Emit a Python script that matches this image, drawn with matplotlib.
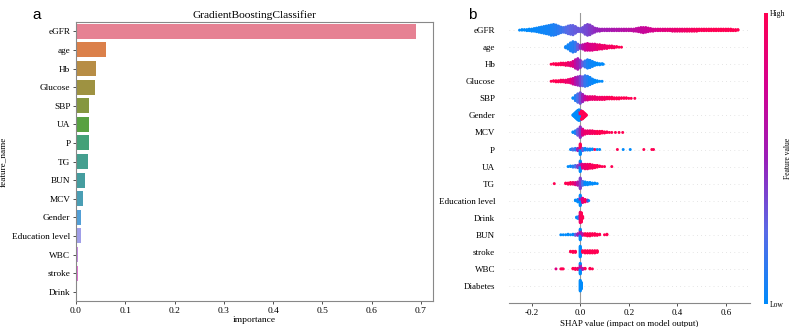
import matplotlib

matplotlib.use("Agg")

import matplotlib.pyplot as plt  # noqa: E402
import numpy as np  # noqa: E402
import seaborn as sns  # noqa: E402
from matplotlib.colors import LinearSegmentedColormap  # noqa: E402
from matplotlib.cm import ScalarMappable  # noqa: E402

# ---- panel a: GradientBoostingClassifier feature importance ----
imp_features = ["eGFR", "age", "Hb", "Glucose", "SBP", "UA", "P", "TG", "BUN",
                "MCV", "Gender", "Education level", "WBC", "stroke", "Drink"]
imp_values = [0.690, 0.061, 0.040, 0.039, 0.027, 0.027, 0.026, 0.024, 0.018,
              0.014, 0.0095, 0.0095, 0.004, 0.004, 0.001]

shap_egfr = [
    (-0.25, 1, 0.0), (-0.24, 2, 0.0), (-0.23, 2, 0.0), (-0.22, 3, 0.0),
    (-0.21, 4, 0.0), (-0.20, 5, 0.02), (-0.19, 6, 0.02), (-0.18, 8, 0.03),
    (-0.17, 10, 0.03), (-0.16, 12, 0.04), (-0.15, 14, 0.05), (-0.14, 16, 0.05),
    (-0.13, 18, 0.06), (-0.12, 21, 0.07), (-0.11, 22, 0.08), (-0.10, 20, 0.1),
    (-0.09, 16, 0.12), (-0.08, 12, 0.15), (-0.07, 10, 0.18), (-0.06, 12, 0.22),
    (-0.05, 16, 0.25), (-0.04, 18, 0.27), (-0.03, 19, 0.28), (-0.02, 14, 0.3),
    (-0.01, 8, 0.31), (0.00, 7, 0.32), (0.01, 10, 0.33), (0.02, 18, 0.35),
    (0.03, 22, 0.37), (0.04, 20, 0.4), (0.05, 14, 0.43), (0.06, 9, 0.46),
    (0.07, 6, 0.48), (0.08, 5, 0.5), (0.09, 4, 0.52), (0.10, 4, 0.53),
    (0.11, 4, 0.54), (0.12, 4, 0.55), (0.13, 4, 0.56), (0.14, 4, 0.57),
    (0.15, 4, 0.58), (0.16, 4, 0.59), (0.17, 4, 0.6), (0.18, 4, 0.61),
    (0.19, 4, 0.62), (0.20, 4, 0.63), (0.21, 4, 0.64), (0.22, 5, 0.65),
    (0.23, 6, 0.66), (0.24, 8, 0.67), (0.25, 10, 0.68), (0.26, 11, 0.69),
    (0.27, 10, 0.7), (0.28, 8, 0.72), (0.29, 6, 0.74), (0.30, 5, 0.76),
    (0.31, 4, 0.78), (0.32, 4, 0.8), (0.33, 4, 0.81), (0.34, 4, 0.82),
    (0.35, 4, 0.83), (0.36, 4, 0.84), (0.37, 4, 0.85), (0.38, 5, 0.86),
    (0.39, 5, 0.87), (0.40, 5, 0.88), (0.41, 5, 0.89), (0.42, 5, 0.9),
    (0.43, 5, 0.91), (0.44, 5, 0.92), (0.45, 5, 0.93), (0.46, 5, 0.94),
    (0.47, 5, 0.95), (0.48, 5, 0.96), (0.49, 4, 0.97), (0.50, 4, 0.98),
    (0.51, 4, 0.98), (0.52, 4, 0.98), (0.53, 4, 0.99), (0.54, 4, 0.99),
    (0.55, 4, 1.0), (0.56, 4, 1.0), (0.57, 4, 1.0), (0.58, 4, 1.0),
    (0.59, 4, 1.0), (0.60, 4, 1.0), (0.61, 4, 1.0), (0.62, 4, 1.0),
    (0.63, 3, 1.0), (0.64, 3, 1.0), (0.65, 2, 1.0),
]
shap_age = [
    (-0.06, 3, 0.05), (-0.05, 8, 0.05), (-0.04, 14, 0.08), (-0.03, 18, 0.1),
    (-0.02, 16, 0.15), (-0.01, 10, 0.3), (0.00, 6, 0.45), (0.01, 8, 0.6),
    (0.02, 11, 0.7), (0.03, 12, 0.75), (0.04, 11, 0.78), (0.05, 11, 0.8),
    (0.06, 10, 0.82), (0.07, 9, 0.85), (0.08, 8, 0.88), (0.09, 7, 0.9),
    (0.10, 6, 0.9), (0.11, 5, 0.92), (0.12, 4, 0.93), (0.13, 4, 0.95),
    (0.14, 3, 0.95), (0.15, 2, 1.0), (0.16, 1, 1.0), (0.17, 1, 1.0),
]
shap_hb = [
    (-0.12, 1, 1.0), (-0.11, 2, 1.0), (-0.10, 3, 1.0), (-0.09, 3, 1.0),
    (-0.08, 4, 0.98), (-0.07, 4, 0.95), (-0.06, 5, 0.95), (-0.05, 6, 0.9),
    (-0.04, 7, 0.85), (-0.03, 10, 0.8), (-0.02, 16, 0.65), (-0.01, 20, 0.55),
    (0.00, 14, 0.45), (0.01, 8, 0.3), (0.02, 12, 0.15), (0.03, 16, 0.08),
    (0.04, 14, 0.05), (0.05, 10, 0.03), (0.06, 6, 0.02), (0.07, 4, 0.0),
    (0.08, 3, 0.0), (0.09, 2, 0.0), (0.095, 1, 0.0),
]
shap_glucose = [
    (-0.12, 1, 1.0), (-0.11, 2, 1.0), (-0.10, 3, 1.0), (-0.09, 3, 1.0),
    (-0.08, 4, 0.95), (-0.07, 4, 0.95), (-0.06, 5, 0.9), (-0.05, 6, 0.9),
    (-0.04, 8, 0.85), (-0.03, 11, 0.75), (-0.02, 14, 0.6), (-0.01, 16, 0.5),
    (0.00, 18, 0.4), (0.01, 17, 0.3), (0.02, 20, 0.15), (0.03, 18, 0.1),
    (0.04, 14, 0.05), (0.05, 9, 0.03), (0.06, 5, 0.0), (0.07, 3, 0.0),
    (0.08, 1, 0.0), (0.09, 1, 0.0),
]
shap_sbp = [
    (-0.03, 2, 0.0), (-0.02, 10, 0.1), (-0.01, 16, 0.2), (0.00, 20, 0.35),
    (0.01, 14, 0.5), (0.02, 8, 0.7), (0.03, 7, 0.8), (0.04, 6, 0.85),
    (0.05, 6, 0.88), (0.06, 6, 0.9), (0.07, 5, 0.9), (0.08, 5, 0.92),
    (0.09, 5, 0.93), (0.10, 5, 0.95), (0.11, 4, 0.95), (0.12, 4, 0.97),
    (0.13, 4, 1.0), (0.14, 3, 1.0), (0.15, 3, 1.0), (0.16, 3, 1.0),
    (0.17, 2, 1.0), (0.18, 2, 1.0), (0.19, 2, 1.0), (0.20, 1, 1.0),
    (0.21, 1, 1.0), (0.225, 1, 1.0),
]
shap_gender = [
    (-0.03, 2, 0.0), (-0.025, 6, 0.0), (-0.02, 10, 0.0), (-0.015, 14, 0.0),
    (-0.01, 18, 0.0), (-0.005, 20, 0.0), (0.00, 10, 0.0), (0.00, 8, 1.0),
    (0.005, 6, 0.0), (0.005, 10, 1.0), (0.01, 14, 1.0), (0.015, 10, 1.0),
    (0.02, 6, 1.0), (0.025, 2, 1.0),
]
shap_mcv = [
    (-0.03, 2, 0.0), (-0.02, 6, 0.1), (-0.01, 12, 0.3), (0.00, 20, 0.45),
    (0.01, 12, 0.8), (0.02, 7, 0.9), (0.03, 6, 0.9), (0.04, 6, 0.92),
    (0.05, 6, 0.95), (0.06, 5, 0.95), (0.07, 5, 1.0), (0.08, 5, 1.0),
    (0.09, 4, 1.0), (0.10, 3, 1.0), (0.11, 2, 1.0), (0.12, 1, 1.0),
    (0.13, 1, 1.0), (0.145, 1, 1.0), (0.16, 1, 1.0), (0.175, 1, 1.0),
]
shap_p = [
    (-0.04, 1, 0.0), (-0.035, 2, 0.1), (-0.03, 3, 0.2), (-0.02, 4, 0.1),
    (-0.01, 5, 0.5), (0.00, 10, 0.0), (0.00, 10, 1.0), (0.01, 5, 0.3),
    (0.02, 4, 0.0), (0.03, 3, 0.1), (0.04, 3, 0.0), (0.05, 2, 0.0),
    (0.06, 1, 1.0), (0.07, 1, 0.0), (0.08, 1, 0.0), (0.153, 1, 1.0),
    (0.177, 1, 0.0), (0.206, 1, 0.0), (0.262, 1, 1.0), (0.295, 1, 1.0),
    (0.302, 1, 1.0),
]
shap_ua = [
    (-0.05, 1, 0.0), (-0.04, 2, 0.0), (-0.03, 3, 0.1), (-0.02, 4, 0.2),
    (-0.01, 5, 0.4), (0.00, 12, 0.0), (0.00, 8, 0.5), (0.01, 8, 0.8),
    (0.02, 9, 0.9), (0.03, 9, 0.9), (0.04, 8, 0.95), (0.05, 7, 0.95),
    (0.06, 5, 1.0), (0.07, 4, 1.0), (0.08, 2, 1.0), (0.09, 1, 1.0),
    (0.10, 1, 1.0), (0.13, 1, 1.0),
]
shap_tg = [
    (-0.107, 1, 1.0), (-0.06, 2, 1.0), (-0.05, 3, 1.0), (-0.04, 4, 1.0),
    (-0.03, 4, 0.9), (-0.02, 5, 0.8), (-0.01, 7, 0.6), (0.00, 20, 0.4),
    (0.01, 8, 0.2), (0.02, 6, 0.0), (0.03, 5, 0.0), (0.04, 4, 0.0),
    (0.05, 3, 0.0), (0.06, 2, 0.0), (0.07, 1, 0.0),
]
shap_education = [
    (-0.02, 2, 0.0), (-0.01, 5, 0.0), (0.00, 12, 0.0), (0.00, 6, 0.5),
    (0.01, 8, 0.8), (0.02, 5, 1.0), (0.03, 3, 0.5), (0.035, 1, 0.0),
]
shap_drink = [
    (-0.015, 2, 0.0), (-0.01, 3, 0.0), (-0.005, 4, 0.2), (0.00, 18, 0.9),
    (0.005, 16, 1.0), (0.01, 4, 1.0),
]
shap_bun = [
    (-0.08, 1, 0.0), (-0.07, 1, 0.0), (-0.06, 1, 0.0), (-0.05, 2, 0.0),
    (-0.04, 1, 0.0), (-0.03, 2, 0.0), (-0.02, 3, 0.3), (-0.01, 4, 0.5),
    (0.00, 12, 0.0), (0.00, 8, 0.6), (0.01, 4, 0.6), (0.02, 4, 1.0),
    (0.03, 5, 1.0), (0.04, 5, 1.0), (0.05, 4, 1.0), (0.06, 4, 1.0),
    (0.07, 3, 1.0), (0.08, 2, 1.0), (0.10, 1, 1.0), (0.11, 2, 1.0),
]
shap_stroke = [
    (-0.04, 2, 1.0), (-0.03, 3, 1.0), (-0.02, 3, 1.0), (0.00, 20, 0.0),
    (0.01, 4, 1.0), (0.02, 5, 1.0), (0.03, 5, 1.0), (0.04, 5, 1.0),
    (0.05, 5, 1.0), (0.06, 5, 1.0), (0.07, 4, 1.0),
]
shap_wbc = [
    (-0.10, 1, 0.8), (-0.08, 1, 1.0), (-0.075, 1, 1.0), (-0.07, 1, 1.0),
    (-0.03, 2, 1.0), (-0.02, 3, 1.0), (-0.01, 3, 0.9), (0.00, 12, 0.0),
    (0.00, 8, 0.6), (0.01, 3, 0.6), (0.02, 2, 1.0), (0.04, 2, 1.0),
    (0.05, 1, 1.0),
]
shap_diabetes = [(0.00, 20, 0.0), (0.005, 12, 0.0)]

shap_rows = [
    ("eGFR", shap_egfr), ("age", shap_age), ("Hb", shap_hb),
    ("Glucose", shap_glucose), ("SBP", shap_sbp), ("Gender", shap_gender),
    ("MCV", shap_mcv), ("P", shap_p), ("UA", shap_ua), ("TG", shap_tg),
    ("Education level", shap_education), ("Drink", shap_drink),
    ("BUN", shap_bun), ("stroke", shap_stroke), ("WBC", shap_wbc),
    ("Diabetes", shap_diabetes),
]

SERIF = "Liberation Serif"
red_blue = LinearSegmentedColormap.from_list(
    "red_blue", ["#008bfb", "#5a6ae6", "#9a1fb8", "#d4008f", "#ff0052"])


def swarm(row, row_height=0.4):
    """shap-style stacking: points sharing a value fan out up/down in layers."""
    groups = {}
    for x, n, c in row:
        groups.setdefault(x, []).append([c] * n)
    xs, ys, cs = [], [], []
    for x in sorted(groups):
        lists = groups[x]
        order = []
        for k in range(max(len(l) for l in lists)):
            order += [l[k] for l in lists if k < len(l)]
        for layer, c in enumerate(order):
            xs.append(x)
            ys.append(np.ceil(layer / 2) * ((layer % 2) * 2 - 1))
            cs.append(c)
    ys = np.array(ys, dtype=float)
    ys *= 0.9 * (row_height / np.max(ys + 1))
    return np.array(xs), ys, np.array(cs)


fig = plt.figure(figsize=(7.98, 3.27), dpi=100)

# ---------------- panel a ----------------
ax = fig.add_axes([0.0952, 0.0795, 0.4474, 0.8532])
pal = [sns.desaturate(c, 0.75) for c in sns.color_palette("husl", len(imp_features))]
ypos = np.arange(len(imp_features))
ax.barh(ypos, imp_values, height=0.8, color=pal)
ax.set_ylim(len(imp_features) - 0.5, -0.5)
ax.set_yticks(ypos)
ax.set_yticklabels(imp_features, fontfamily=SERIF, fontsize=6.7)
ax.set_xticks(np.arange(0, 0.75, 0.1))
ax.set_xticklabels([f"{t:.1f}" for t in np.arange(0, 0.75, 0.1)],
                   fontfamily=SERIF, fontsize=6.8)
ax.tick_params(length=2.5, width=0.6, pad=1.5, color="#333333")
for sp in ax.spines.values():
    sp.set_color("#888888")
    sp.set_linewidth(0.8)
ax.set_xlabel("importance", fontfamily=SERIF, fontsize=6.8, labelpad=1)
ax.set_ylabel("feature_name", fontfamily=SERIF, fontsize=6.6)
ax.yaxis.set_label_coords(-0.19, 0.5)
ax.set_title("GradientBoostingClassifier", fontfamily=SERIF, fontsize=8.2, pad=3)

# ---------------- panel b ----------------
bx = fig.add_axes([0.638, 0.0734, 0.302, 0.8866])
n_rows = len(shap_rows)
for i, (name, row) in enumerate(shap_rows):
    pos = n_rows - 1 - i
    bx.axhline(pos, color="#cccccc", lw=0.5, dashes=(1, 5), zorder=-1)
    xs, ys, cs = swarm(row)
    bx.scatter(xs, pos + ys, c=red_blue(cs), s=4.5, linewidths=0, zorder=3)
bx.axvline(0, color="#999999", lw=0.8, zorder=-1)
bx.set_ylim(-1, n_rows)
bx.set_xlim(-0.293, 0.70)
bx.set_yticks(np.arange(n_rows))
bx.set_yticklabels([r[0] for r in shap_rows][::-1], fontfamily=SERIF, fontsize=6.5)
bx.tick_params(axis="y", length=0, pad=10)
bx.set_xticks([-0.2, 0.0, 0.2, 0.4, 0.6])
bx.set_xticklabels(["-0.2", "0.0", "0.2", "0.4", "0.6"], fontfamily=SERIF, fontsize=6.5)
bx.tick_params(axis="x", length=2.5, width=0.6, pad=2, color="#333333")
for s in ("top", "right", "left"):
    bx.spines[s].set_visible(False)
bx.spines["bottom"].set_color("#888888")
bx.spines["bottom"].set_linewidth(0.8)
bx.set_xlabel("SHAP value (impact on model output)", fontfamily=SERIF,
              fontsize=6.5, labelpad=2)

cax = fig.add_axes([0.9575, 0.0703, 0.005, 0.8899])
cb = fig.colorbar(ScalarMappable(cmap=red_blue), cax=cax, ticks=[0, 1])
cb.set_ticklabels(["Low", "High"])
cb.ax.tick_params(length=0, pad=1.5, labelsize=5.5)
for t in cb.ax.get_yticklabels():
    t.set_fontfamily(SERIF)
cb.outline.set_visible(False)
cb.set_label("Feature value", fontfamily=SERIF, fontsize=5.5, labelpad=-1)

fig.text(0.041, 0.975, "a", fontfamily="Liberation Sans", fontsize=11, va="top")
fig.text(0.586, 0.975, "b", fontfamily="Liberation Sans", fontsize=11, va="top")

fig.savefig("out.png", dpi=100)
